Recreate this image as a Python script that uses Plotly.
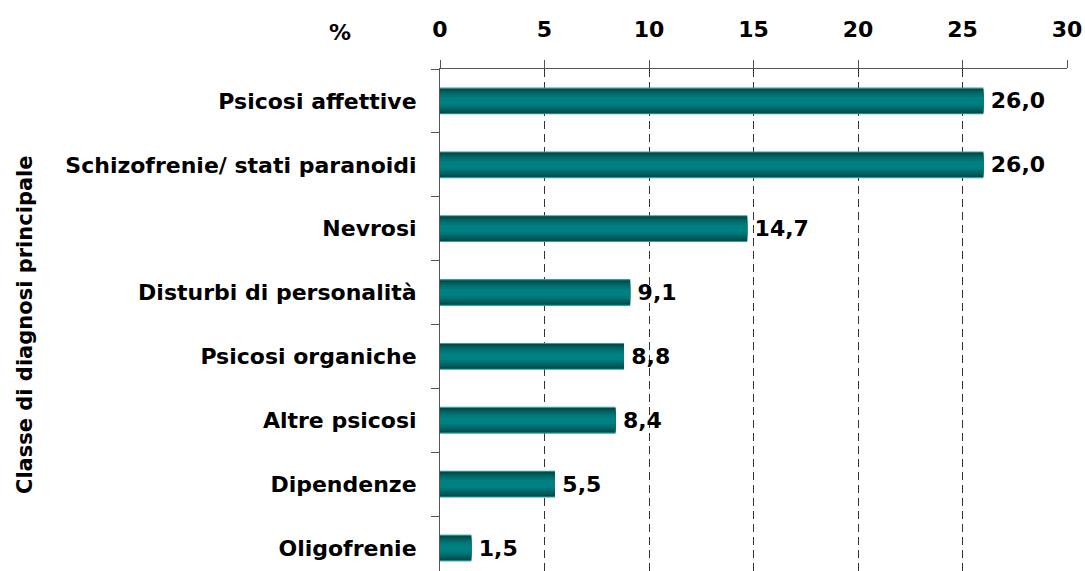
import plotly.graph_objects as go

categories = ["Psicosi affettive", "Schizofrenie/ stati paranoidi", "Nevrosi",
              "Disturbi di personalità", "Psicosi organiche", "Altre psicosi",
              "Dipendenze", "Oligofrenie"]
values = [26.0, 26.0, 14.7, 9.1, 8.8, 8.4, 5.5, 1.5]
x_ticks = [0, 5, 10, 15, 20, 25, 30]

FONT = "DejaVu Sans, Liberation Sans, Arial, sans-serif"
FW, FH = 1085, 571
L, T, R = 440, 69, 18
PW, PH = FW - L - R, FH - T

fig = go.Figure()

# layered bars to imitate the cylinder-like gradient
layers = [
    (0.42, "#2f9f9f", True),
    (0.385, "#004a4a", False),
    (0.33, "#005a5a", False),
    (0.27, "#006868", False),
    (0.20, "#007575", False),
    (0.12, "#008080", False),
]
for w, col, main in layers:
    fig.add_trace(go.Bar(
        x=values, y=categories, orientation="h", width=w,
        marker=dict(color=col, line=dict(width=0)),
        text=["\u2009" + f"{v:.1f}".replace(".", ",") for v in values] if main else None,
        textposition="outside" if main else "none",
        textfont=dict(family=FONT, size=22, color="black", weight="bold"),
        cliponaxis=False, showlegend=False, hoverinfo="skip",
    ))

fig.update_layout(
    barmode="overlay",
    width=FW, height=FH,
    margin=dict(l=L, r=R, t=T, b=0),
    paper_bgcolor="white", plot_bgcolor="white",
    font=dict(family=FONT, size=22, color="black"),
    xaxis=dict(
        side="top", range=[0, 30], tickvals=x_ticks,
        ticktext=[str(t) for t in x_ticks],
        tickfont=dict(family=FONT, size=22, color="black", weight="bold"),
        ticks="outside", ticklen=8, tickcolor="#555555", tickwidth=1,
        ticklabelstandoff=14,
        showgrid=True, gridcolor="#333333", griddash="8px,5px", gridwidth=1,
        showline=True, linecolor="#555555", linewidth=1,
        zeroline=False, fixedrange=True,
    ),
    yaxis=dict(
        type="category", categoryorder="array", categoryarray=categories,
        range=[7.36, -0.5],
        tickfont=dict(family=FONT, size=22, color="black", weight="bold"),
        ticks="outside", tickson="boundaries", ticklen=8, tickcolor="#555555",
        ticklabelstandoff=18,
        showgrid=False, showline=True, linecolor="#555555", linewidth=1,
        zeroline=False, fixedrange=True,
    ),
    annotations=[
        dict(text="<b>%</b>", x=(340 - L) / PW, y=(FH - 32) / PH,
             xref="paper", yref="paper",
             xanchor="center", yanchor="middle", showarrow=False,
             font=dict(family=FONT, size=22, color="black")),
        dict(text="<b>Classe di diagnosi principale</b>",
             x=(25 - L) / PW, y=(FH - 324) / PH,
             xref="paper", yref="paper", xanchor="center", yanchor="middle",
             textangle=-90, showarrow=False,
             font=dict(family=FONT, size=21, color="black")),
    ],
)

fig.write_html(
    "out.html",
    config={"displayModeBar": False},
    post_script="document.body.style.margin='0px';"
                "document.body.style.overflow='hidden';",
)
